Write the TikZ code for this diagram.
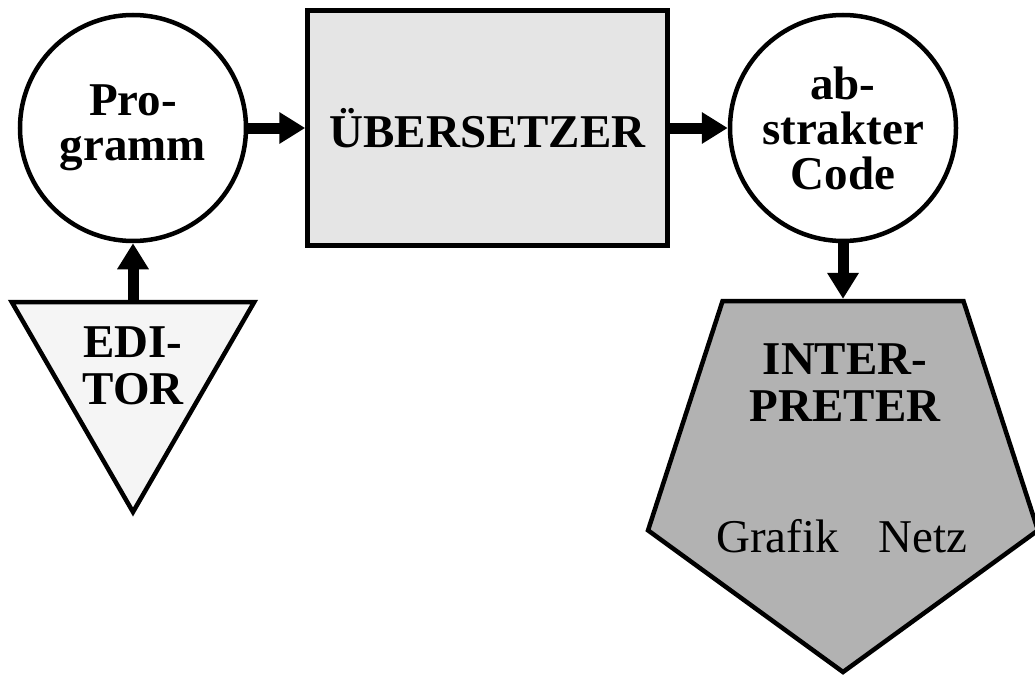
\documentclass[tikz,border=0pt]{standalone}
\usepackage{fontspec}
\setmainfont{Liberation Serif}
\usetikzlibrary{arrows.meta, positioning, shapes.geometric}

\begin{document}
\begin{tikzpicture}[x=1pt, y=-1pt,
    big/.style={font=\fontsize{47}{45}\selectfont, align=center, inner sep=0pt},
    data/.style={circle, draw, line width=4.5pt, minimum size=226pt, big, font=\bfseries\fontsize{47}{45}\selectfont},
    flow/.style={line width=11pt, -{Triangle[length=26pt, width=30pt]}}]
  \useasboundingbox (0,0) rectangle (1035,677);

  % TOP ROW: program -> compiler -> abstract code
  \node[data] (prog) at (133,128) {Pro-\\gramm};
  \node[draw, line width=4.5pt, fill=gray!20, minimum width=360pt, minimum height=235pt,
        big, font=\bfseries\fontsize{47}{45}\selectfont] (comp) at (487.5,128) {ÜBERSETZER};
  \node[data] (code) at (843,128) {ab-\\strakter\\Code};

  % LEFT: editor
  \node[regular polygon, regular polygon sides=3, shape border rotate=180, minimum size=280pt,
        draw, line width=4.5pt, fill=gray!8] (edit) at (133,372) {};
  \node[big, font=\bfseries\fontsize{47}{47}\selectfont] (editlbl) at (133,366) {EDI-\\TOR};

  % RIGHT: interpreter
  \node[regular polygon, regular polygon sides=5, shape border rotate=180, minimum size=410pt,
        draw, line width=4.5pt, fill=gray!60] (interp) at (843,467) {};
  \node[big, font=\bfseries\fontsize{47}{47}\selectfont] (interplbl) at (845,383) {INTER-\\PRETER};
  \node[big] (outlbl) at (842,536) {Grafik\hspace{0.85em}Netz};

  \draw[flow] (prog) -- (comp);
  \draw[flow] (comp) -- (code);
  \draw[flow] (edit.north) -- (prog.south);
  \draw[flow] (code.south) -- (interp.north);
\end{tikzpicture}
\end{document}
